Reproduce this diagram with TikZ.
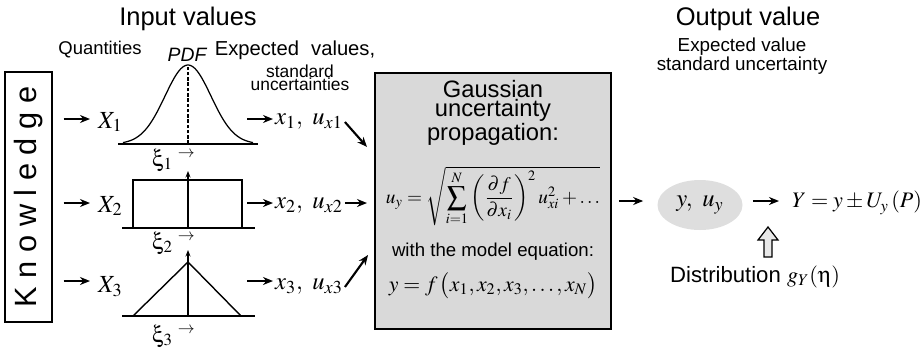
\documentclass[tikz,border=0pt]{standalone}
\usepackage{mathptmx}
\usepackage[Symbol]{upgreek}
\usepackage[no-math]{fontspec}
\setmainfont{Liberation Sans}
\usepackage{tikz}
\usetikzlibrary{shapes.geometric, arrows.meta, positioning, calc}
\definecolor{cBox}{RGB}{217,217,217}
\definecolor{cEll}{RGB}{222,222,222}
\definecolor{cHollow}{RGB}{232,232,232}
\tikzset{
  headtxt/.style={font=\fontsize{14.5}{16}\selectfont},
  mathlbl/.style={font=\fontsize{14}{16}\selectfont, inner sep=1pt},
  xilbl/.style={font=\fontsize{13}{15}\selectfont, inner sep=0pt},
  knowbox/.style={draw, line width=0.7pt, rotate=90, minimum width=50mm,
                  minimum height=9.4mm, font=\fontsize{17.5}{20}\selectfont},
  propbox/.style={draw, line width=0.9pt, fill=cBox, minimum width=47.2mm,
                  minimum height=51.2mm},
  valellipse/.style={ellipse, fill=cEll, minimum width=17mm,
                     minimum height=10mm, inner sep=0pt},
  thickarrow/.style={-{Stealth[length=2mm,width=1.6mm]}, line width=1.2pt},
  axisline/.style={line width=0.8pt},
  axisarrow/.style={-{Stealth[length=1.3mm,width=1mm]}, line width=0.8pt}
}

\begin{document}
\begin{tikzpicture}[x=0.2mm, y=-0.2mm]
  \useasboundingbox (0,0) rectangle (921,348);

  \node[headtxt] (inhead) at (188,19) {Input values};
  \node[headtxt] (outhead) at (748,19) {Output value};
  \node[font=\fontsize{10.5}{12}\selectfont] (qty) at (100,50) {Quantities};
  \node[font=\itshape\fontsize{11}{12}\selectfont] (pdf) at (187,55) {PDF};
  \node[font=\fontsize{11.5}{13}\selectfont] (expv) at (295,50)
    {Expected\hspace{0.6em}values,};
  \node[align=center, font=\fontsize{9.9}{7.6}\selectfont] (stdu) at (300,78)
    {standard\\uncertainties};
  \node[align=center, font=\fontsize{10.7}{9.7}\selectfont] (expout) at (742,56)
    {Expected value\\standard uncertainty};

  \node[knowbox] (know) at (28.5,197) {K n o w l e d g e};

  \draw[axisline] (118,144) -- (258,144);
  \draw[line width=0.7pt] plot[domain=-65:65, samples=80, smooth]
    ({188+\x},{144-79*exp(-0.5*(\x/23)*(\x/23))});
  \draw[line width=1pt, dash pattern=on 2pt off 1pt] (188,144) -- (188,65);

  \draw[axisline] (122,228) -- (255,228);
  \draw[axisline] (133,228) |- (242,180) -- (242,228);
  \draw[axisarrow] (188,228) -- (188,171);

  \draw[axisline] (122,316) -- (255,316);
  \draw[axisline] (133,316) -- (188,262) -- (241,316);
  \draw[axisarrow] (188,316) -- (188,250);

  \foreach \i/\yx in {1/160, 2/243, 3/336}
    \node[xilbl] (xi\i) at (174,\yx) {$\upxi_\i\;{}^{\rightarrow}$};

  \foreach \i/\ya/\yl in {1/119/122, 2/203/206, 3/281/287} {
    \node[mathlbl, anchor=west] (X\i) at (96,\yl) {$X_\i$};
    \draw[thickarrow, shorten <=2.2mm] (know.south |- 0,\ya) -- (90,\ya);
    \coordinate (s\i) at (247,\ya);
    \node[mathlbl, anchor=west] (x\i) at (273,\yl) {$x_\i,\ u_{x\i}$};
    \draw[thickarrow] (s\i) -- (s\i -| x\i.west);
  }

  \node[propbox] (prop) at (493,201) {};
  \node[align=center, font=\fontsize{13.5}{11}\selectfont] (ptitle) at (493,113)
    {Gaussian\\uncertainty\\propagation:};
  \node[font=\fontsize{11}{13}\selectfont] (pform) at (493,196)
    {$\displaystyle u_y = \sqrt{\sum_{i=1}^{N}\left(\frac{\partial f}{\partial x_i}\right)^{2} u_{xi}^{2} + \dots}$};
  \node[font=\fontsize{10.6}{12}\selectfont] (pwith) at (493,252)
    {with the model equation:};
  \node[font=\fontsize{12.4}{14}\selectfont] (pmodel) at (493,286)
    {$y = f\,\bigl(x_1, x_2, x_3, \dots, x_N\bigr)$};

  \coordinate (in1) at (367,147);
  \coordinate (in2) at (367,203);
  \coordinate (in3) at (368,255);
  \draw[thickarrow] (x1.east) -- (in1);
  \draw[thickarrow] (x2.east |- in2) -- (in2);
  \draw[thickarrow] (x3.east) -- (in3);

  \node[valellipse, font=\fontsize{14}{16}\selectfont] (yu) at (700,205) {$y,\ u_y$};
  \draw[thickarrow, shorten <=1.4mm, shorten >=2.8mm] (prop.east) -- (prop.east -| yu.west);
  \node[mathlbl, font=\fontsize{12.6}{14}\selectfont, anchor=west] (Yres) at (790,203)
    {$Y = y \pm U_y\,(P)$};
  \draw[thickarrow, shorten <=2mm, shorten >=2.2mm] (yu.east |- 0,201) -- (Yres.west |- 0,201);

  \draw[line width=0.7pt, fill=cHollow] (764,257) -- (764,240) -- (758,240) -- (768,227)
    -- (778,240) -- (772,240) -- (772,257) -- cycle;
  \node[font=\fontsize{12.6}{14}\selectfont] (distr) at (755,277)
    {Distribution $g_Y(\upeta)$};
\end{tikzpicture}
\end{document}
